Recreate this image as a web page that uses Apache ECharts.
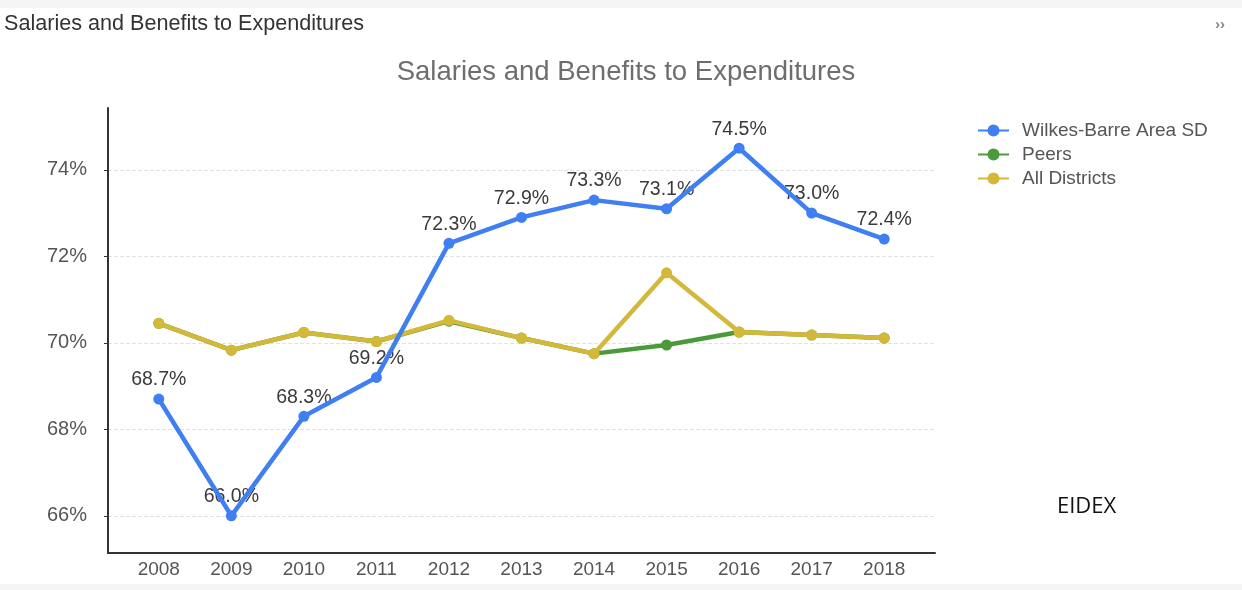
<!DOCTYPE html>
<html>
<head>
<meta charset="utf-8">
<script src="https://cdn.jsdelivr.net/npm/echarts@6/dist/echarts.min.js"></script>
<style>
  html, body { margin: 0; padding: 0; background: #fff; }
  #chart { width: 1242px; height: 590px; }
</style>
</head>
<body>
<div id="chart"></div>
<script>
// chart data
const years = [2008, 2009, 2010, 2011, 2012, 2013, 2014, 2015, 2016, 2017, 2018];
const wilkesBarre = [68.7, 66.0, 68.3, 69.2, 72.3, 72.9, 73.3, 73.1, 74.5, 73.0, 72.4];
const peers = [70.45, 69.83, 70.24, 70.03, 70.5, 70.11, 69.75, 69.95, 70.25, 70.18, 70.11];
const allDistricts = [70.45, 69.83, 70.24, 70.03, 70.52, 70.11, 69.75, 71.62, 70.25, 70.18, 70.11];
const yTicks = [66, 68, 70, 72, 74];

const pairs = vals => years.map((y, i) => [y, vals[i]]);

const chart = echarts.init(document.getElementById('chart'));

const option = {
  animation: false,
  textStyle: { fontFamily: 'Liberation Sans, Arial, sans-serif' },
  graphic: [
    { type: 'rect', shape: { x: 0, y: 0, width: 1242, height: 8 }, style: { fill: '#f4f5f7' } },
    { type: 'rect', shape: { x: 0, y: 584, width: 1242, height: 6 }, style: { fill: '#f4f5f7' } },
    {
      type: 'text', left: 4, top: 13,
      style: { text: 'Salaries and Benefits to Expenditures', fill: '#333', font: '21.6px "Liberation Sans", sans-serif' }
    },
    {
      type: 'text', left: 1215, top: 17,
      style: { text: '››', fill: '#888', font: 'bold 15px "Liberation Sans", sans-serif' }
    },
    {
      type: 'text', left: 1057, top: 496,
      style: { text: 'EIDEX', fill: '#111', font: '22px "Open Sans", sans-serif' }
    }
  ],
  title: {
    text: 'Salaries and Benefits to Expenditures',
    left: 621,
    textAlign: 'center',
    top: 53,
    textStyle: { color: '#6e6e6e', fontSize: 27.5, fontWeight: 'normal' }
  },
  legend: {
    orient: 'vertical',
    left: 972,
    top: 116,
    itemWidth: 31,
    itemHeight: 15,
    itemGap: 5,
    textStyle: { color: '#555', fontSize: 19, padding: [0, 0, 0, 8] },
    data: ['Wilkes-Barre Area SD', 'Peers', 'All Districts']
  },
  grid: { left: 108, right: 307, top: 108, bottom: 37 },
  xAxis: {
    type: 'value',
    min: 2007.3,
    max: 2018.7,
    minInterval: 1,
    maxInterval: 1,
    axisLine: { lineStyle: { color: '#333', width: 2 } },
    axisTick: { show: false },
    splitLine: { show: false },
    axisLabel: {
      showMinLabel: false,
      showMaxLabel: false,
      color: '#555',
      fontSize: 19,
      margin: 7,
      formatter: v => (Number.isInteger(v) ? String(v) : '')
    }
  },
  yAxis: {
    type: 'value',
    min: 65.14,
    max: 75.43,
    splitNumber: 5,
    axisLine: { show: true, lineStyle: { color: '#333', width: 2 } },
    axisTick: { show: true, length: 4, lineStyle: { color: '#333' } },
    splitLine: { show: true, showMinLine: false, showMaxLine: false, lineStyle: { color: '#e2e2e2', type: 'dashed' } },
    axisLabel: {
      showMinLabel: false,
      showMaxLabel: false,
      color: '#555',
      fontSize: 20,
      margin: 21,
      formatter: v => (yTicks.includes(v) ? v + '%' : '')
    }
  },
  series: [
    {
      // value labels sit under the lines, as in the original
      name: 'labels',
      type: 'scatter',
      z: 1,
      silent: true,
      data: pairs(wilkesBarre),
      symbolSize: 0,
      itemStyle: { opacity: 1 },
      label: {
        show: true,
        position: 'top',
        distance: 9,
        color: '#3a3a3a',
        fontSize: 19.5,
        formatter: p => p.value[1].toFixed(1) + '%'
      }
    },
    {
      name: 'Wilkes-Barre Area SD',
      type: 'line',
      z: 4,
      data: pairs(wilkesBarre),
      symbol: 'circle',
      symbolSize: 11,
      color: '#3f7ff2',
      lineStyle: { width: 4.5 }
    },
    {
      name: 'Peers',
      type: 'line',
      z: 2,
      data: pairs(peers),
      symbol: 'circle',
      symbolSize: 11,
      color: '#4a9a3a',
      lineStyle: { width: 4.5 }
    },
    {
      name: 'All Districts',
      type: 'line',
      z: 3,
      data: pairs(allDistricts),
      symbol: 'circle',
      symbolSize: 11,
      color: '#d4b83a',
      lineStyle: { width: 4.5 }
    }
  ]
};

chart.setOption(option);
</script>
</body>
</html>
